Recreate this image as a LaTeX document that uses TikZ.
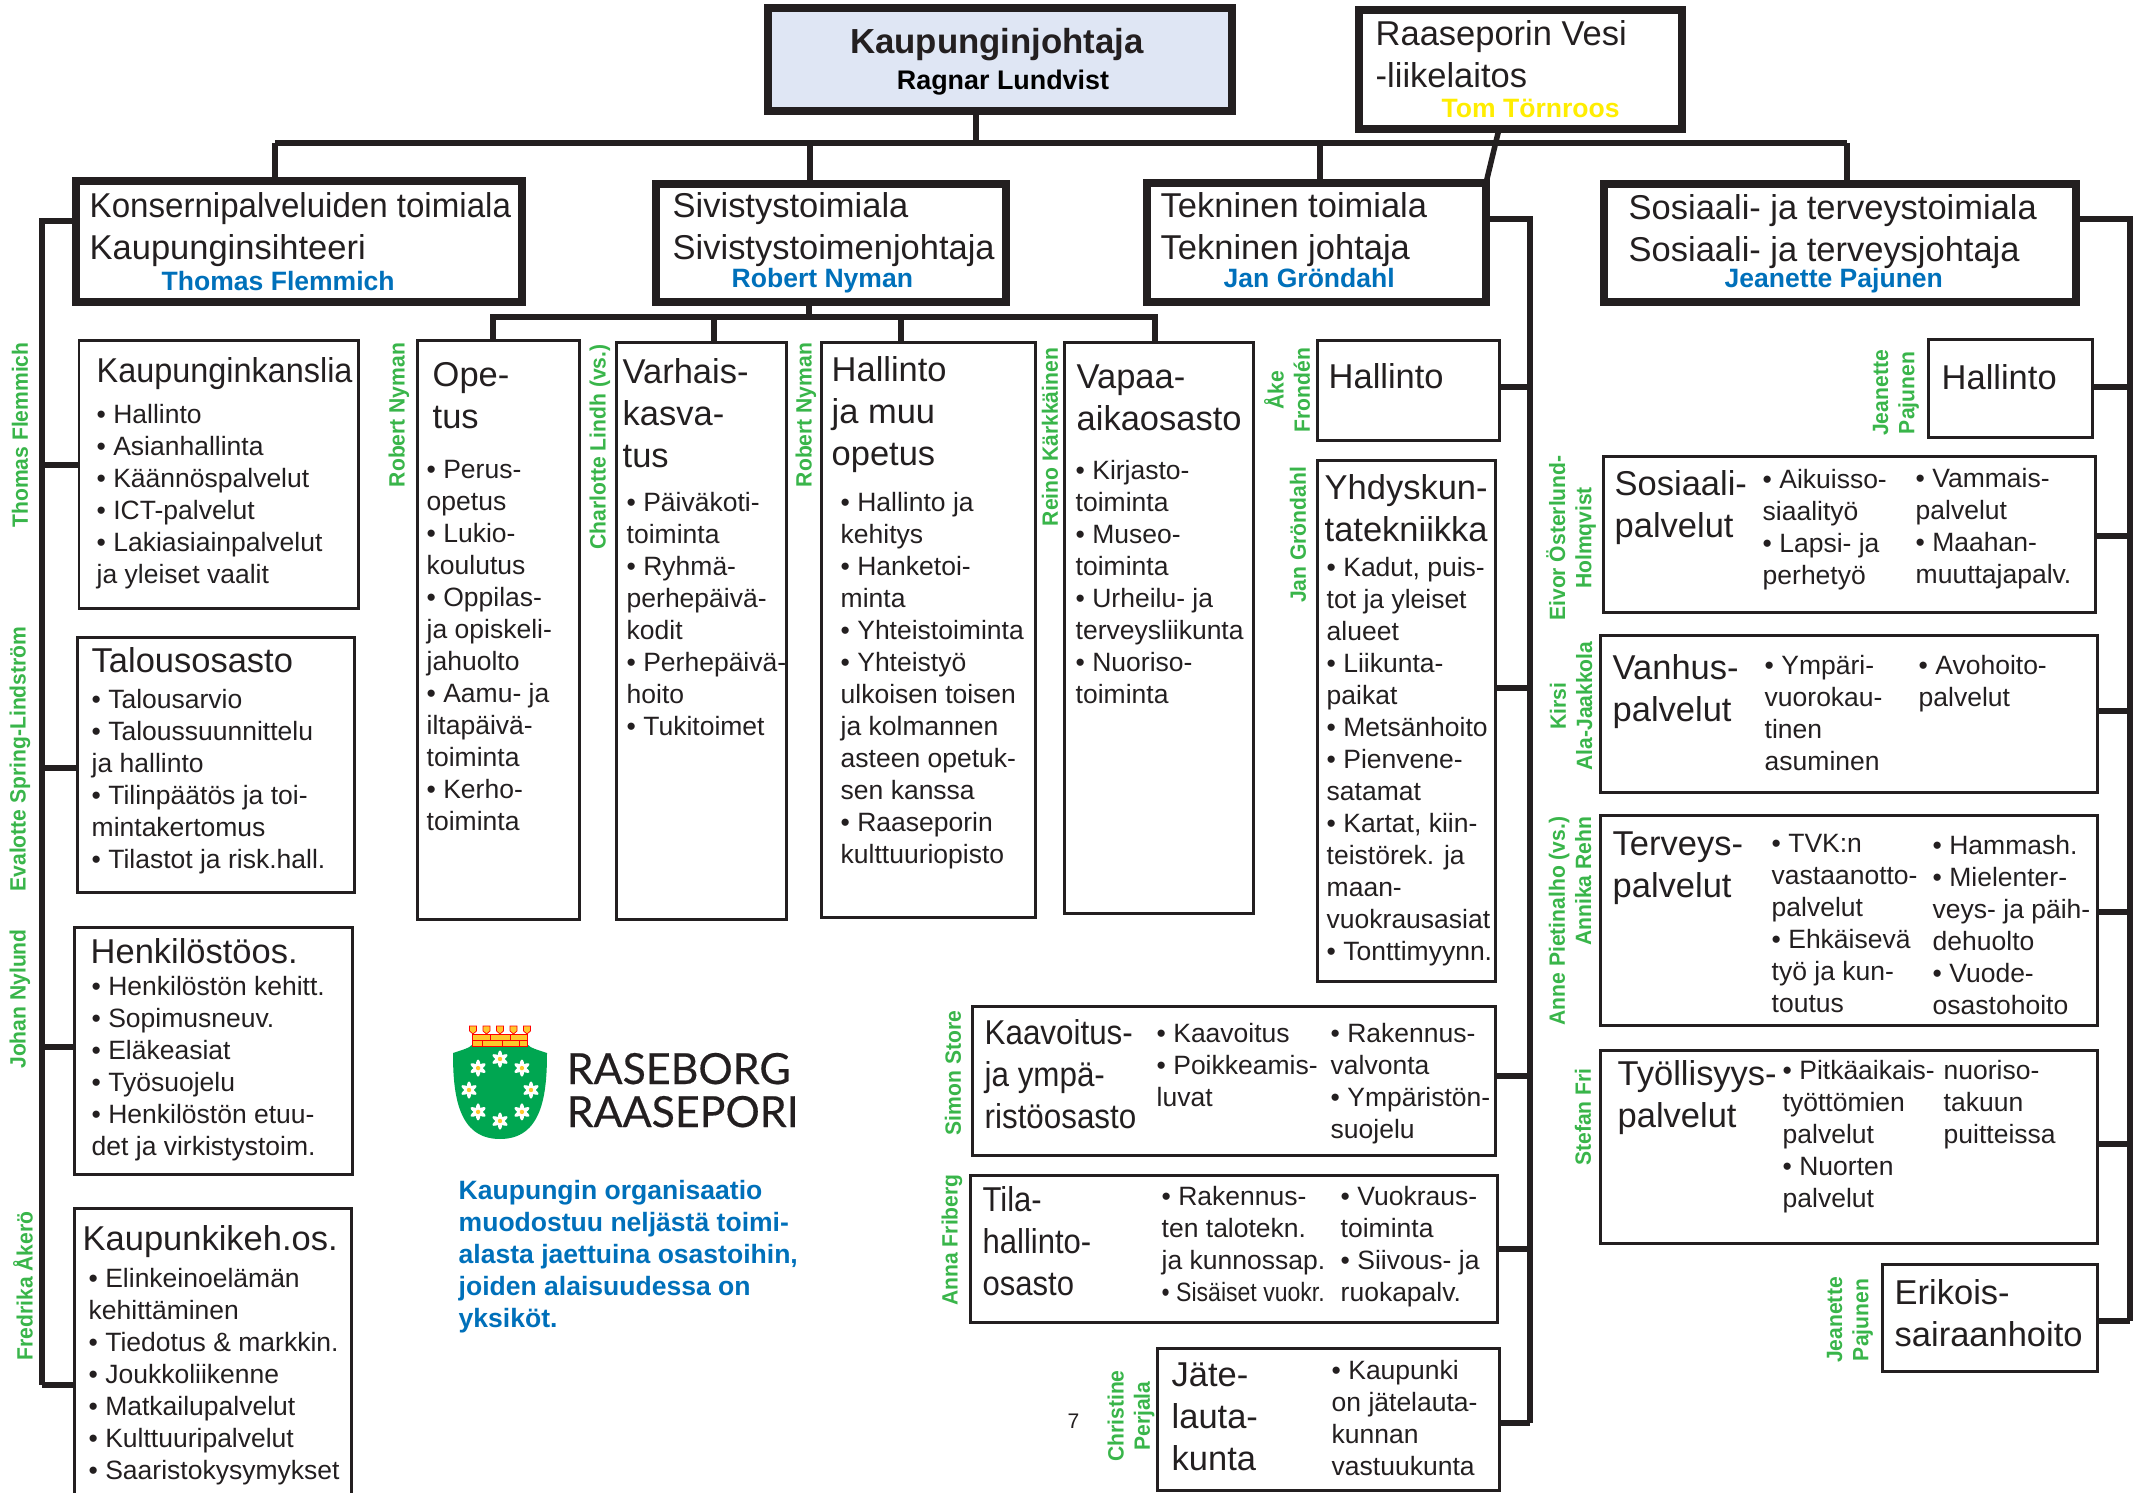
\documentclass[tikz,border=0pt]{standalone}
\usepackage{fontspec}
\setmainfont{Liberation Sans}
\newfontfamily\logofont[FakeBold=.4]{Lato}
\definecolor{ink}{HTML}{231F20}
\definecolor{namegreen}{HTML}{39B54A}
\definecolor{nameblue}{HTML}{0070BA}
\definecolor{topfill}{HTML}{DFE6F4}
\definecolor{shieldgreen}{HTML}{00A651}
\definecolor{crownyellow}{HTML}{FFC72C}
\tikzset{
 unitbox/.style={draw=ink,line width=.03cm,anchor=north west,inner sep=0,outer sep=0},
 areabox/.style={unitbox,line width=.075cm},
 link/.style={draw=ink,line width=.055cm},
 headtext/.style={anchor=north west,inner sep=0,align=left,text=ink,yshift=.294cm,
  font=\fontsize{9.81}{11.95}\selectfont,execute at begin node=\strut},
 bodytext/.style={anchor=north west,inner sep=0,align=left,text=ink,yshift=.204cm,
  font=\fontsize{7.54}{9.1}\selectfont,execute at begin node=\strut},
 chieftext/.style={anchor=base west,inner sep=0,text=nameblue,font=\fontsize{7.55}{9.1}\bfseries\selectfont},
 sidename/.style={rotate=90,yscale=1.05,transform shape,inner sep=0,align=center,text=namegreen,
  font=\fontsize{6}{7.1}\bfseries\selectfont},
}
\begin{document}
\begin{tikzpicture}[y=-1cm]
 \useasboundingbox (0,0) rectangle (21.47,14.93);
 % top row
 \node[areabox,fill=topfill,minimum width=4.64cm,minimum height=1.03cm] (johtaja) at (7.68,.08) {};
 \node[anchor=base,inner sep=0,text=ink,font=\fontsize{9.9}{12}\bfseries\selectfont] (johtajaT) at (9.97,.54) {Kaupunginjohtaja};
 \node[anchor=base,inner sep=0,text=black,font=\fontsize{7.65}{9}\bfseries\selectfont] (johtajaN) at (10.03,.90) {Ragnar Lundvist};
 \node[areabox,minimum width=3.23cm,minimum height=1.19cm] (vesi) at (13.59,.10) {};
 \node[headtext] (vesiT) at (13.75,.49) {Raaseporin Vesi\\-liikelaitos};
 \node[chieftext,text={yellow!95!orange}] (vesiN) at (14.41,1.18) {Tom Törnroos};
 % areas
 \node[areabox,line width=.08cm,minimum width=4.46cm,minimum height=1.21cm] (konserni) at (.76,1.81) {};
 \node[headtext] (konserniT) at (.89,2.21) {\scalebox{.96}[1]{Konsernipalveluiden toimiala}\\Kaupunginsihteeri};
 \node[chieftext] (konserniN) at (1.61,2.91) {Thomas Flemmich};
 \node[areabox,minimum width=3.50cm,minimum height=1.18cm] (sivisto) at (6.56,1.84) {};
 \node[headtext] (sivistoT) at (6.72,2.21) {Sivistystoimiala\\Sivistystoimenjohtaja};
 \node[chieftext] (sivistoN) at (7.31,2.88) {Robert Nyman};
 \node[areabox,minimum width=3.39cm,minimum height=1.19cm] (tekninen) at (11.47,1.83) {};
 \node[headtext] (tekninenT) at (11.60,2.21) {Tekninen toimiala\\Tekninen johtaja};
 \node[chieftext] (tekninenN) at (12.23,2.88) {Jan Gröndahl};
 \node[areabox,minimum width=4.72cm,minimum height=1.18cm] (sosiaali) at (16.04,1.84) {};
 \node[headtext] (sosiaaliT) at (16.28,2.23) {Sosiaali- ja terveystoimiala\\Sosiaali- ja terveysjohtaja};
 \node[chieftext] (sosiaaliN) at (17.24,2.88) {Jeanette Pajunen};
 % konserni units
 \node[unitbox,minimum width=2.79cm,minimum height=2.68cm] (kanslia) at (.79,3.41) {};
 \node[headtext,xscale=.94,transform shape] (kansliaH) at (.96,3.82) {Kaupunginkanslia};
 \node[bodytext] (kansliaB) at (.96,4.24) {• Hallinto\\• Asianhallinta\\• Käännöspalvelut\\• ICT-palvelut\\• Lakiasiainpalvelut\\ja yleiset vaalit};
 \node[unitbox,minimum width=2.77cm,minimum height=2.54cm] (talous) at (.77,6.38) {};
 \node[headtext] (talousH) at (.91,6.72) {Talousosasto};
 \node[bodytext] (talousB) at (.91,7.09) {• Talousarvio\\• Taloussuunnittelu\\ja hallinto\\• Tilinpäätös ja toi-\\mintakertomus\\• Tilastot ja risk.hall.};
 \node[unitbox,minimum width=2.78cm,minimum height=2.47cm] (henkilo) at (.74,9.27) {};
 \node[headtext] (henkiloH) at (.90,9.63) {Henkilöstöos.};
 \node[bodytext] (henkiloB) at (.91,9.96) {• Henkilöstön kehitt.\\• Sopimusneuv.\\• Eläkeasiat\\• Työsuojelu\\• Henkilöstön etuu-\\det ja virkistystoim.};
 \node[unitbox,minimum width=2.77cm,minimum height=3.00cm] (kehitys) at (.74,12.08) {};
 \node[headtext] (kehitysH) at (.82,12.50) {Kaupunkikeh.os.};
 \node[bodytext] (kehitysB) at (.88,12.88) {• Elinkeinoelämän\\kehittäminen\\• Tiedotus \& markkin.\\• Joukkoliikenne\\• Matkailupalvelut\\• Kulttuuripalvelut\\• Saaristokysymykset};
 % sivisto units
 \node[unitbox,minimum width=1.62cm,minimum height=5.78cm] (opetus) at (4.17,3.41) {};
 \node[headtext] (opetusH) at (4.32,3.91) {Ope-\\tus};
 \node[bodytext] (opetusB) at (4.26,4.80) {• Perus-\\opetus\\• Lukio-\\koulutus\\• Oppilas-\\ja opiskeli-\\jahuolto\\• Aamu- ja\\iltapäivä-\\toiminta\\• Kerho-\\toiminta};
 \node[unitbox,minimum width=1.70cm,minimum height=5.76cm] (varhais) at (6.16,3.43) {};
 \node[headtext] (varhaisH) at (6.22,3.87) {Varhais-\\kasva-\\tus};
 \node[bodytext] (varhaisB) at (6.26,5.12) {• Päiväkoti-\\toiminta\\• Ryhmä-\\perhepäivä-\\kodit\\• Perhepäivä-\\hoito\\• Tukitoimet};
 \node[unitbox,minimum width=2.14cm,minimum height=5.74cm] (muu) at (8.21,3.43) {};
 \node[headtext] (muuH) at (8.31,3.85) {Hallinto\\ja muu\\opetus};
 \node[bodytext] (muuB) at (8.40,5.12) {• Hallinto ja\\kehitys\\• Hanketoi-\\minta\\• Yhteistoiminta\\• Yhteistyö\\ulkoisen toisen\\ja kolmannen\\asteen opetuk-\\sen kanssa\\• Raaseporin\\kulttuuriopisto};
 \node[unitbox,minimum width=1.89cm,minimum height=5.70cm] (vapaa) at (10.64,3.43) {};
 \node[headtext] (vapaaH) at (10.76,3.93) {Vapaa-\\aikaosasto};
 \node[bodytext] (vapaaB) at (10.75,4.80) {• Kirjasto-\\toiminta\\• Museo-\\toiminta\\• Urheilu- ja\\terveysliikunta\\• Nuoriso-\\toiminta};
 % tekninen units
 \node[unitbox,minimum width=1.82cm,minimum height=1.00cm] (tekhall) at (13.17,3.41) {};
 \node[headtext] (tekhallH) at (13.28,3.88) {Hallinto};
 \node[unitbox,minimum width=1.78cm,minimum height=5.20cm] (yhdysk) at (13.17,4.61) {};
 \node[headtext] (yhdyskH) at (13.24,5.03) {Yhdyskun-\\tatekniikka};
 \node[bodytext] (yhdyskB) at (13.26,5.77) {• Kadut, puis-\\tot ja yleiset\\alueet\\• Liikunta-\\paikat\\• Metsänhoito\\• Pienvene-\\satamat\\• Kartat, kiin-\\teistörek. ja\\maan-\\vuokrausasiat\\• Tonttimyynn.};
 \node[unitbox,minimum width=5.23cm,minimum height=1.49cm] (kaavoitus) at (9.72,10.06) {};
 \node[headtext,xscale=.91,transform shape] (kaavoitusH) at (9.84,10.48) {Kaavoitus-\\ja ympä-\\ristöosasto};
 \node[bodytext] (kaavoitusA) at (11.56,10.43) {• Kaavoitus\\• Poikkeamis-\\luvat};
 \node[bodytext] (kaavoitusB) at (13.30,10.43) {• Rakennus-\\valvonta\\• Ympäristön-\\suojelu};
 \node[unitbox,minimum width=5.27cm,minimum height=1.47cm] (tila) at (9.70,11.75) {};
 \node[headtext,xscale=.90,transform shape] (tilaH) at (9.82,12.15) {Tila-\\hallinto-\\osasto};
 \node[bodytext] (tilaA) at (11.61,12.06) {• Rakennus-\\ten talotekn.\\ja kunnossap.\\\scalebox{.87}[1]{• Sisäiset vuokr.}};
 \node[bodytext] (tilaB) at (13.40,12.06) {• Vuokraus-\\toiminta\\• Siivous- ja\\ruokapalv.};
 \node[unitbox,minimum width=3.42cm,minimum height=1.42cm] (jate) at (11.57,13.48) {};
 \node[headtext] (jateH) at (11.71,13.91) {Jäte-\\lauta-\\kunta};
 \node[bodytext] (jateB) at (13.31,13.80) {• Kaupunki\\on jätelauta-\\kunnan\\vastuukunta};
 % sosiaali units
 \node[unitbox,minimum width=1.64cm,minimum height=.98cm] (soshall) at (19.28,3.40) {};
 \node[headtext] (soshallH) at (19.41,3.89) {Hallinto};
 \node[unitbox,minimum width=4.92cm,minimum height=1.56cm] (sospalv) at (16.03,4.57) {};
 \node[headtext] (sospalvH) at (16.14,4.99) {Sosiaali-\\palvelut};
 \node[bodytext] (sospalvA) at (17.62,4.89) {• Aikuisso-\\siaalityö\\• Lapsi- ja\\perhetyö};
 \node[bodytext] (sospalvB) at (19.15,4.88) {• Vammais-\\palvelut\\• Maahan-\\muuttajapalv.};
 \node[unitbox,minimum width=4.97cm,minimum height=1.56cm] (vanhus) at (16.00,6.36) {};
 \node[headtext] (vanhusH) at (16.12,6.83) {Vanhus-\\palvelut};
 \node[bodytext] (vanhusA) at (17.64,6.75) {• Ympäri-\\vuorokau-\\tinen\\asuminen};
 \node[bodytext] (vanhusB) at (19.18,6.75) {• Avohoito-\\palvelut};
 \node[unitbox,minimum width=4.97cm,minimum height=2.10cm] (terveys) at (16.00,8.15) {};
 \node[headtext] (terveysH) at (16.12,8.60) {Terveys-\\palvelut};
 \node[bodytext] (terveysA) at (17.71,8.54) {• TVK:n\\vastaanotto-\\palvelut\\• Ehkäisevä\\työ ja kun-\\toutus};
 \node[bodytext] (terveysB) at (19.32,8.55) {• Hammash.\\• Mielenter-\\veys- ja päih-\\dehuolto\\• Vuode-\\osastohoito};
 \node[unitbox,minimum width=4.97cm,minimum height=1.93cm] (tyo) at (16.00,10.50) {};
 \node[headtext] (tyoH) at (16.17,10.89) {Työllisyys-\\palvelut};
 \node[bodytext] (tyoA) at (17.82,10.80) {• Pitkäaikais-\\työttömien\\palvelut\\• Nuorten\\palvelut};
 \node[bodytext] (tyoB) at (19.43,10.80) {nuoriso-\\takuun\\puitteissa};
 \node[unitbox,minimum width=2.15cm,minimum height=1.07cm] (erikois) at (18.82,12.64) {};
 \node[headtext] (erikoisH) at (18.94,13.08) {Erikois-\\sairaanhoito};
 % head of each unit
 \node[sidename] (nimi1) at (.20,4.35) {Thomas Flemmich};
 \node[sidename] (nimi2) at (.20,7.59) {Evalotte Spring-Lindström};
 \node[sidename] (nimi3) at (.20,9.99) {Johan Nylund};
 \node[sidename] (nimi4) at (.23,12.86) {Fredrika Åkerö};
 \node[sidename] (nimi5) at (3.99,4.15) {Robert Nyman};
 \node[sidename] (nimi6) at (6.00,4.47) {Charlotte Lindh (vs.)};
 \node[sidename] (nimi7) at (8.06,4.15) {Robert Nyman};
 \node[sidename] (nimi8) at (10.50,4.37) {Reino Kärkkäinen};
 \node[sidename] (nimi9) at (12.87,3.90) {Åke\\Frondén};
 \node[sidename] (nimi10) at (12.98,5.35) {Jan Gröndahl};
 \node[sidename] (nimi11) at (18.96,3.93) {Jeanette\\Pajunen};
 \node[sidename] (nimi12) at (15.71,5.38) {Eivor Österlund-\\Holmqvist};
 \node[sidename] (nimi13) at (15.71,7.06) {Kirsi\\Ala-Jaakkola};
 \node[sidename,align=right] (nimi14) at (15.70,9.21) {Anne Pietinalho (vs.)\\Annika Rehn};
 \node[sidename] (nimi15) at (15.83,11.17) {Stefan Fri};
 \node[sidename] (nimi16) at (18.50,13.20) {Jeanette\\Pajunen};
 \node[sidename] (nimi17) at (9.53,10.73) {Simon Store};
 \node[sidename] (nimi18) at (9.52,12.40) {Anna Friberg};
 \node[sidename] (nimi19) at (11.31,14.16) {Christine\\Perjala};
 % connectors
 \coordinate (busW) at (2.75,1.43);
 \coordinate (busE) at (18.47,1.43);
 \draw[link] (busW) -- (busE);
 \draw[link] (johtaja.south -| 9.76,0) -- (9.76,1.43);
 \draw[link] (busW) -- (konserni.north -| busW);
 \foreach \b/\x in {sivisto/8.10,tekninen/13.20}
  \draw[link] (\x,1.43) -- (\b.north -| \x,0);
 \draw[link] (busE) -- (sosiaali.north -| busE);
 \draw[link] (vesi.south -| 14.99,0) -- (tekninen.north -| 14.86,0);
 % konserni
 \coordinate (konserniBus) at (.42,2.21);
 \draw[link] (konserni.west |- konserniBus) -- (konserniBus) -- (.42,13.85);
 \foreach \b/\y in {kanslia/4.65,talous/7.68,henkilo/10.47,kehitys/13.85}
  \draw[link] (\b.west |- 0,\y) -- (.42,\y);
 % sivisto
 \coordinate (sivistoBus) at (8.09,3.17);
 \draw[link] (sivisto.south -| sivistoBus) -- (sivistoBus);
 \draw[link] (4.93,3.41) -- (4.93,3.17) -- (11.55,3.17) -- (vapaa.north -| 11.55,0);
 \foreach \b/\x in {varhais/7.14,muu/9.01}
  \draw[link] (\x,3.17) -- (\b.north -| \x,0);
 % tekninen
 \coordinate (tekninenBus) at (15.30,2.19);
 \draw[link] (tekninen.east |- tekninenBus) -- (tekninenBus) -- (15.30,14.23);
 \foreach \b/\y in {tekhall/3.87,yhdysk/6.88,kaavoitus/10.76,tila/12.49,jate/14.23}
  \draw[link] (\b.east |- 0,\y) -- (15.30,\y);
 % sosiaali
 \coordinate (sosiaaliBus) at (21.30,2.19);
 \draw[link] (sosiaali.east |- sosiaaliBus) -- (sosiaaliBus) -- (21.30,13.21);
 \foreach \b/\y in {soshall/3.87,sospalv/5.36,vanhus/7.11,terveys/9.12,tyo/11.44,erikois/13.21}
  \draw[link] (\b.east |- 0,\y) -- (21.30,\y);
 % logo
 \fill[shieldgreen] (4.53,10.53) .. controls (4.62,10.50) and (4.70,10.48) .. (4.73,10.44) -- (5.27,10.44)
  .. controls (5.30,10.48) and (5.38,10.50) .. (5.47,10.53) .. controls (5.47,10.95) and (5.42,11.39) .. (5.00,11.39)
  .. controls (4.58,11.39) and (4.53,10.95) .. cycle;
 \fill[crownyellow,draw=red,line width=.2pt] (4.72,10.34) rectangle (5.27,10.46);
 \foreach \x in {4.73,4.865,5.00,5.135,5.27}
  \fill[crownyellow,draw=red,line width=.2pt] (\x-.035,10.26) -- (\x+.035,10.26) -- (\x+.035,10.31) -- (\x,10.34) -- (\x-.035,10.31) -- cycle;
 \draw[red,line width=.2pt] (4.72,10.40) -- (5.27,10.40);
 \foreach \x in {4.82,5.02,5.19}
  \draw[red,line width=.2pt] (\x,10.40) -- (\x,10.46);
 \foreach \x in {4.90,5.10}
  \draw[red,line width=.2pt] (\x,10.34) -- (\x,10.40);
 \foreach \a in {0,45,...,315} {
  \begin{scope}[shift={(5.00,10.90)},shift={(\a:.31)}]
   \foreach \p in {30,90,150}
    \fill[white,rotate=\p] (0,0) ellipse (.085 and .026);
   \fill[crownyellow] (0,0) circle (.022);
  \end{scope}
 }
 \node[anchor=base west,inner sep=0,text=ink,font=\fontsize{12.2}{12.3}\logofont\selectfont] (logo1) at (5.66,10.84) {RASEBORG};
 \node[anchor=base west,inner sep=0,text=ink,font=\fontsize{12.2}{12.3}\logofont\selectfont] (logo2) at (5.66,11.27) {RAASEPORI};
 \node[bodytext,text=nameblue,font=\fontsize{7.55}{9.1}\bfseries\selectfont] (kuvaus) at (4.58,12.00) {Kaupungin organisaatio\\muodostuu neljästä toimi-\\alasta jaettuina osastoihin,\\joiden alaisuudessa on\\yksiköt.};
 \node[anchor=base west,inner sep=0,text=ink,font=\fontsize{6}{7}\selectfont] (sivu) at (10.67,14.28) {7};
\end{tikzpicture}
\end{document}
